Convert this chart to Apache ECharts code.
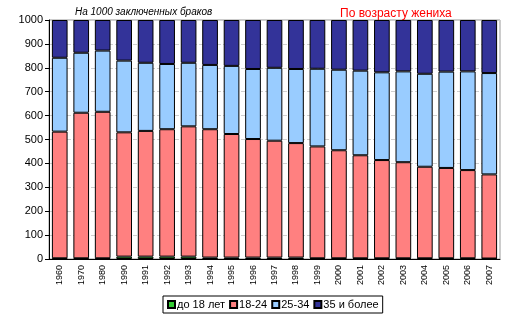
<!DOCTYPE html>
<html>
<head>
<meta charset="utf-8">
<script src="https://cdn.jsdelivr.net/npm/echarts@6/dist/echarts.min.js"></script>
<style>
  html, body { margin: 0; padding: 0; background: #fff; }
  #chart { width: 516px; height: 321px; }
</style>
</head>
<body>
<div id="chart"></div>
<script>
// Marriages per 1000, by groom's age group
var years = ['1960','1970','1980','1990','1991','1992','1993','1994','1995','1996','1997','1998','1999','2000','2001','2002','2003','2004','2005','2006','2007'];
var under18 = [3, 3, 3, 10, 10, 10, 10, 6, 6, 6, 6, 6, 3, 3, 3, 3, 3, 3, 3, 3, 2];
var age18to24 = [530, 609, 613, 520, 526, 533, 545, 537, 517, 496, 489, 479, 468, 452, 431, 411, 402, 383, 378, 369, 352];
var age25to34 = [309, 251, 256, 300, 285, 273, 266, 269, 285, 293, 305, 310, 325, 337, 354, 367, 380, 389, 403, 413, 424];
var age35plus = [158, 137, 128, 170, 179, 184, 179, 188, 192, 205, 200, 205, 204, 208, 212, 219, 215, 225, 216, 215, 222];
var seriesNames = ['до 18 лет', '18-24', '25-34', '35 и более'];
var yTicks = [0, 100, 200, 300, 400, 500, 600, 700, 800, 900, 1000];

var font = 'Liberation Sans, Arial, sans-serif';
var colors = ['#33CC33', '#FF8080', '#99CCFF', '#333399'];
var values = [under18, age18to24, age25to34, age35plus];

var chart = echarts.init(document.getElementById('chart'));
chart.setOption({
  animation: false,
  title: [
    { text: 'На 1000 заключенных браков', left: 70, top: 2,
      textStyle: { fontFamily: font, fontSize: 10, fontStyle: 'italic', fontWeight: 'normal', color: '#000' } },
    { text: 'По возрасту жениха', left: 335, top: 3,
      textStyle: { fontFamily: font, fontSize: 12, fontWeight: 'normal', color: '#FF0000' } }
  ],
  grid: { left: 49, right: 16, top: 20, bottom: 62, show: true, borderColor: '#999', borderWidth: 1 },
  legend: {
    data: seriesNames,
    left: 163, top: 296,
    orient: 'horizontal',
    itemWidth: 7, itemHeight: 7, itemGap: 4,
    padding: [3, 4, 3, 4],
    borderColor: '#000', borderWidth: 1,
    icon: 'rect',
    textStyle: { fontFamily: font, fontSize: 11, color: '#000', padding: [0, 0, 0, -3] }
  },
  xAxis: {
    type: 'category',
    data: years,
    axisLine: { lineStyle: { color: '#000' } },
    axisTick: { show: false },
    axisLabel: { rotate: 90, fontFamily: font, fontSize: 9, color: '#000', margin: 6 }
  },
  yAxis: {
    type: 'value',
    min: 0, max: 1000, interval: 100,
    axisLine: { show: true, lineStyle: { color: '#000' } },
    axisTick: { show: true, length: 4, lineStyle: { color: '#000' } },
    axisLabel: { fontFamily: font, fontSize: 11, color: '#000', margin: 6,
      formatter: function (v) { return yTicks.indexOf(v) >= 0 ? String(v) : ''; } },
    splitLine: { show: true, lineStyle: { color: '#cfcfcf', type: 'dashed' } }
  },
  series: seriesNames.map(function (name, i) {
    return {
      name: name,
      type: 'bar',
      stack: 'total',
      barCategoryGap: '27%',
      data: values[i],
      itemStyle: { color: colors[i], borderColor: '#000', borderWidth: 1 }
    };
  })
});
</script>
</body>
</html>
